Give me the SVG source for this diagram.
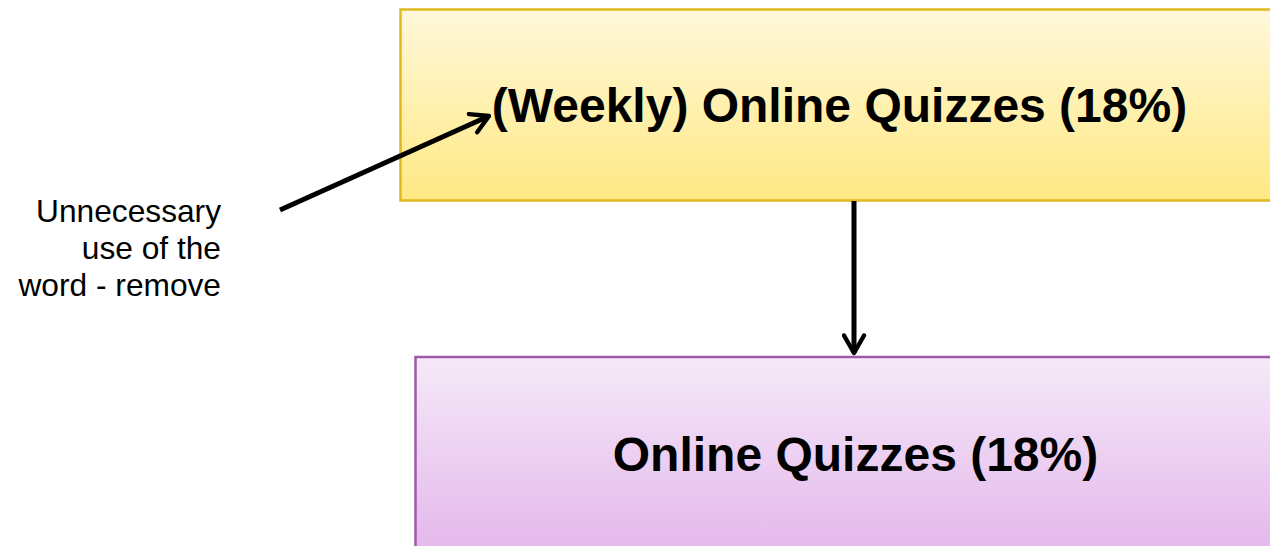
<svg xmlns="http://www.w3.org/2000/svg" width="1270" height="546" viewBox="0 0 1270 546">
  <style>
    .title { font-family: "Liberation Sans", Arial, sans-serif; font-weight: bold; font-size: 48px; fill: #000; text-anchor: middle; }
    .note { font-family: "Liberation Sans", Arial, sans-serif; font-size: 31.7px; fill: #000; text-anchor: end; }
    .conn { stroke: #000; stroke-width: 5; fill: none; }
  </style>
  <defs>
    <linearGradient id="gy" x1="0" y1="0" x2="0" y2="1">
      <stop offset="0" stop-color="#fff8db"/>
      <stop offset="1" stop-color="#ffe984"/>
    </linearGradient>
    <linearGradient id="gp" x1="0" y1="0" x2="0" y2="1">
      <stop offset="0" stop-color="#f5e9f8"/>
      <stop offset="1" stop-color="#e2b1ea"/>
    </linearGradient>
    <marker id="ah" viewBox="0 0 20 20" refX="17" refY="10" markerWidth="5" markerHeight="5" orient="auto" markerUnits="strokeWidth">
      <path d="M3,2 L17,10 L3,18" fill="none" stroke="#000" stroke-width="3.5" stroke-linecap="round" stroke-linejoin="round"/>
    </marker>
  </defs>
  <g id="node-weekly">
    <rect x="400.5" y="9.5" width="879" height="191" fill="url(#gy)" stroke="#e0b91f" stroke-width="2.5"/>
    <text class="title" x="839.5" y="122">(Weekly) Online Quizzes (18%)</text>
  </g>
  <g id="node-online">
    <rect x="415.5" y="357" width="881" height="220" fill="url(#gp)" stroke="#9f5aa7" stroke-width="2.5"/>
    <text class="title" x="855.5" y="471">Online Quizzes (18%)</text>
  </g>
  <g id="note">
    <text class="note" x="221" y="222">Unnecessary</text>
    <text class="note" x="221" y="259">use of the</text>
    <text class="note" x="221" y="296">word - remove</text>
  </g>
  <g id="connectors">
    <line class="conn" x1="280" y1="210" x2="489" y2="116" marker-end="url(#ah)"/>
    <line class="conn" x1="854" y1="201" x2="854" y2="353" marker-end="url(#ah)"/>
  </g>
</svg>
